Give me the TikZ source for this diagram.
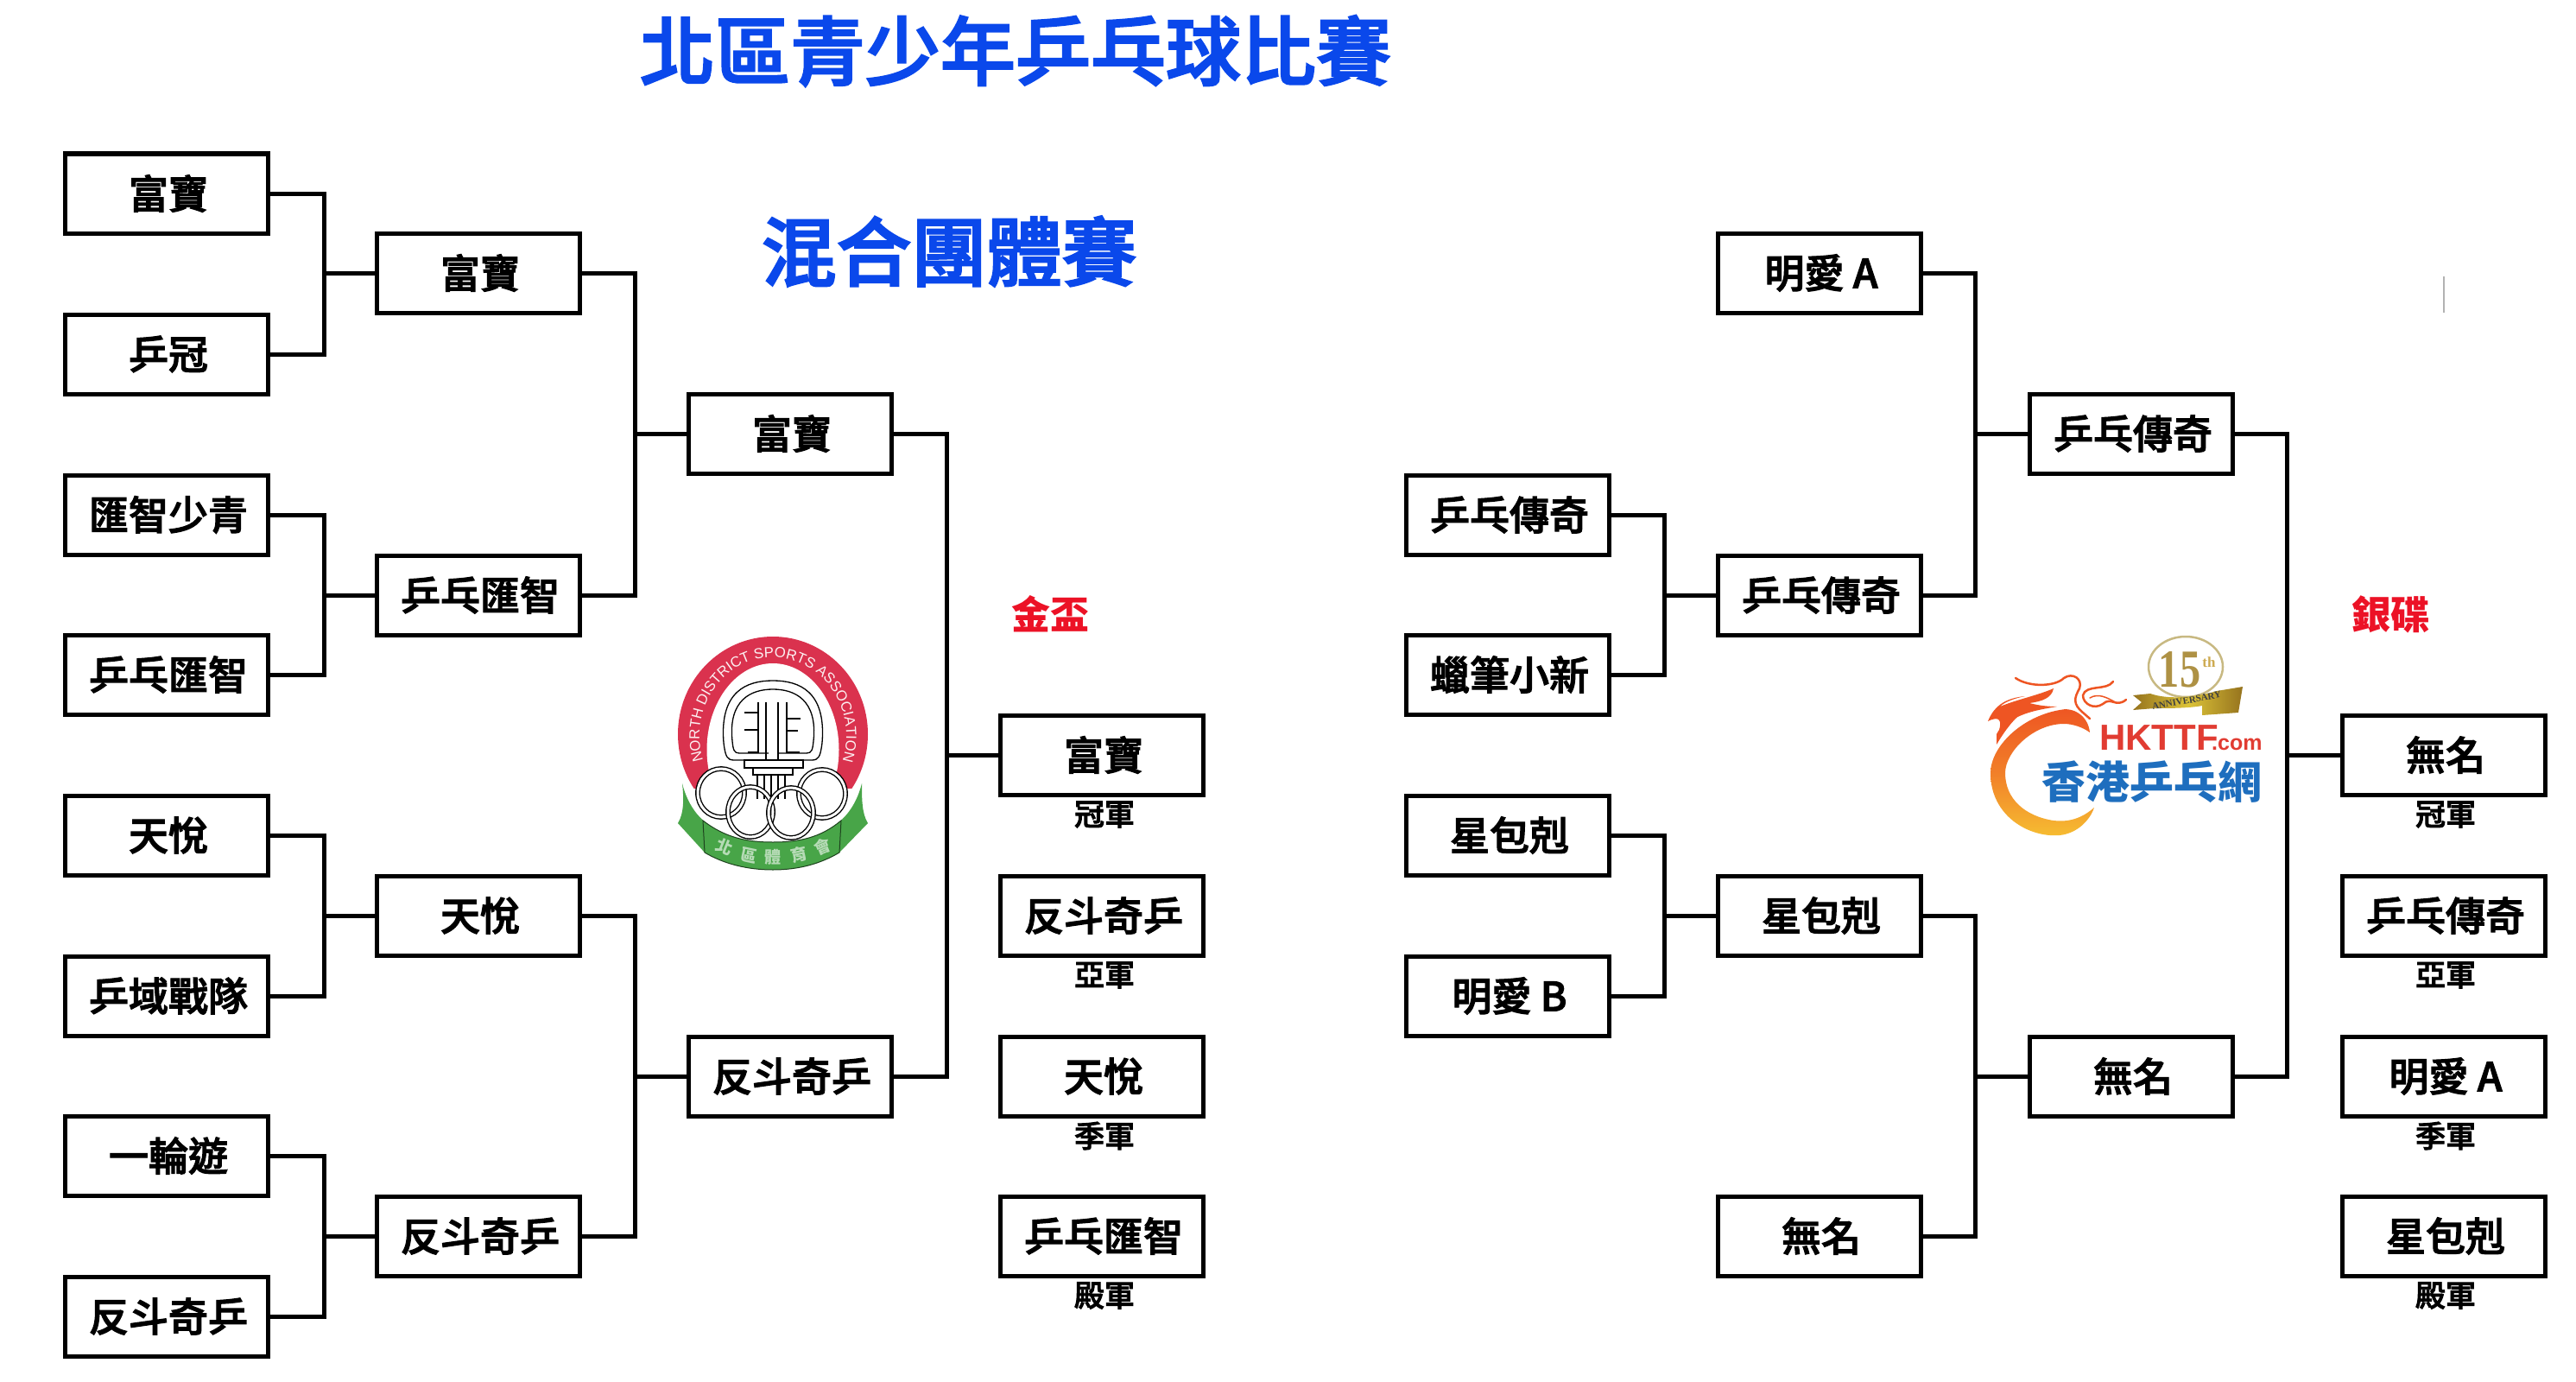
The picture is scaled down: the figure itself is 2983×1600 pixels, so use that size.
\documentclass[tikz,border=0pt]{standalone}
\usepackage{fontspec}
\usepackage{graphicx}
\usetikzlibrary{decorations.text,calc}
\newfontfamily\cjk{Noto Sans CJK TC}
\newfontfamily\cjkm[FakeBold=2.5]{Noto Sans CJK TC Medium}
\newfontfamily\lib{Liberation Sans}
\newfontfamily\libs{Liberation Serif}
\newcommand{\fsz}[1]{\fontsize{#1}{#1}\selectfont}
\definecolor{titleblue}{RGB}{10,72,235}
\definecolor{medalred}{RGB}{236,18,38}
\definecolor{ndred}{RGB}{218,50,78}
\definecolor{ndgreen}{RGB}{72,165,72}
\definecolor{ttblue}{RGB}{30,110,190}
\definecolor{ttred}{RGB}{225,60,50}
\definecolor{ttorange}{RGB}{238,85,35}
\definecolor{ttyellow}{RGB}{246,190,50}
\definecolor{gold}{RGB}{205,170,80}
\definecolor{golddark}{RGB}{150,115,30}
\definecolor{goldlight}{RGB}{200,185,130}
\tikzset{
  team/.style={draw=black,line width=5pt,fill=white,minimum width=235pt,minimum height=92pt,
    inner sep=0pt,font=\cjkm\fsz{46},text=black},
  conn/.style={draw=black,line width=5pt,line cap=rect,line join=miter},
  capt/.style={font=\cjkm\fsz{35},text=black,inner sep=0pt},
  maintitle/.style={font=\cjkm\fsz{87},text=titleblue,inner sep=0pt},
  medal/.style={font=\cjk\bfseries\fsz{45},text=medalred,inner sep=0pt},
  ndline/.style={draw=black,line width=1.3pt},
  ring/.style={draw=black,line width=1.4pt,double=white,double distance=3pt},
  flame/.style={fill=ttorange,draw=none},
  crest/.style={draw=ttorange,line width=2.5pt,line cap=round},
}
\newcommand{\bracket}[4]{% top, bottom, target, x of the vertical
  \coordinate (j#3) at (#4,0 |- #3.west);
  \draw[conn] (#1.east) -| (j#3) |- (#2.east);
  \draw[conn] (j#3) -- (#3.west);
}
% team text sits a little right of the box centre in the reference
\newcommand{\tm}[1]{\hspace*{4pt}#1}
\begin{document}
\begin{tikzpicture}[x=1pt,y=-1pt]
\useasboundingbox (0,0) rectangle (2983,1600);
\fill[white] (0,0) rectangle (2983,1600);

% titles
\node[maintitle] (t1) at (1176,59) {北區青少年乒乓球比賽};
\node[maintitle] (t2) at (1099,291) {混合團體賽};
\node[medal] (m1) at (1216,711) {金盃};
\node[medal] (m2) at (2768,711) {銀碟};

% left bracket
\node[team] (a1) at (193,224) {\tm{富寶}};
\node[team] (a2) at (193,410) {\tm{乒冠}};
\node[team] (a3) at (193,596) {\tm{匯智少青}};
\node[team] (a4) at (193,781) {\tm{乒乓匯智}};
\node[team] (a5) at (193,967) {\tm{天悅}};
\node[team] (a6) at (193,1153) {\tm{乒域戰隊}};
\node[team] (a7) at (193,1338) {\tm{一輪遊}};
\node[team] (a8) at (193,1524) {\tm{反斗奇乒}};
\node[team] (b1) at (554,316) {\tm{富寶}};
\node[team] (b2) at (554,689) {\tm{乒乓匯智}};
\node[team] (b3) at (554,1060) {\tm{天悅}};
\node[team] (b4) at (554,1431) {\tm{反斗奇乒}};
\node[team] (c1) at (915,502) {\tm{富寶}};
\node[team] (c2) at (915,1246) {\tm{反斗奇乒}};
\node[team] (d1) at (1276,874) {\tm{富寶}};
\node[team] (d2) at (1276,1060) {\tm{反斗奇乒}};
\node[team] (d3) at (1276,1246) {\tm{天悅}};
\node[team] (d4) at (1276,1431) {\tm{乒乓匯智}};
\bracket{a1}{a2}{b1}{375}
\bracket{a3}{a4}{b2}{375}
\bracket{a5}{a6}{b3}{375}
\bracket{a7}{a8}{b4}{375}
\bracket{b1}{b2}{c1}{735}
\bracket{b3}{b4}{c2}{735}
\bracket{c1}{c2}{d1}{1096}

% right bracket
\node[team] (e3) at (1746,596) {\tm{乒乓傳奇}};
\node[team] (e4) at (1746,781) {\tm{蠟筆小新}};
\node[team] (e5) at (1746,967) {\tm{星包剋}};
\node[team] (e6) at (1746,1153) {\tm{明愛 B}};
\node[team] (f1) at (2107,316) {\tm{明愛 A}};
\node[team] (f2) at (2107,689) {\tm{乒乓傳奇}};
\node[team] (f3) at (2107,1060) {\tm{星包剋}};
\node[team] (f4) at (2107,1431) {\tm{無名}};
\node[team] (g1) at (2468,502) {\tm{乒乓傳奇}};
\node[team] (g2) at (2468,1246) {\tm{無名}};
\node[team] (h1) at (2830,874) {\tm{無名}};
\node[team] (h2) at (2830,1060) {\tm{乒乓傳奇}};
\node[team] (h3) at (2830,1246) {\tm{明愛 A}};
\node[team] (h4) at (2830,1431) {\tm{星包剋}};
\bracket{e3}{e4}{f2}{1927}
\bracket{e5}{e6}{f3}{1927}
\bracket{f1}{f2}{g1}{2287}
\bracket{f3}{f4}{g2}{2287}
\bracket{g1}{g2}{h1}{2648}

% captions
\node[capt] (cd1) at (1279,943) {冠軍};
\node[capt] (cd2) at (1279,1129) {亞軍};
\node[capt] (cd3) at (1279,1315) {季軍};
\node[capt] (cd4) at (1279,1500) {殿軍};
\node[capt] (ch1) at (2832,943) {冠軍};
\node[capt] (ch2) at (2832,1129) {亞軍};
\node[capt] (ch3) at (2832,1315) {季軍};
\node[capt] (ch4) at (2832,1500) {殿軍};

% faint stray tick
\draw[draw=black!30,line width=2pt] (2830,320) -- (2830,362);

% ---------- North District Sports Association crest ----------
% green ribbon tails
\fill[ndgreen] (790,907) .. controls (797,935) and (812,950) .. (825,958)
  -- (816,987) -- (785,953) .. controls (792,942) and (792,925) .. (790,907) -- cycle;
\fill[ndgreen] (998,907) .. controls (991,935) and (976,950) .. (963,958)
  -- (972,987) -- (1005,953) .. controls (998,942) and (998,925) .. (998,907) -- cycle;
% red arch
\begin{scope}
  \clip (770,730) rectangle (1020,912);
  \fill[ndred] (895,850) ellipse [x radius=110pt,y radius=113pt];
\end{scope}
\fill[white] (895,868) ellipse [x radius=76.5pt,y radius=100pt];
\path[decorate,decoration={text along path,
    text={|\lib\fsz{16.8}|NORTH DISTRICT SPORTS ASSOCIATION},
    text color=white!92!ndred,text align=center}]
  (895,852) ++(200:85pt and 91pt) arc[start angle=200,end angle=-20,x radius=85pt,y radius=91pt];
% pediment
\draw[ndline] (838,860) .. controls (833,800) and (865,788) .. (895,788)
  .. controls (925,788) and (957,800) .. (952,860)
  .. controls (950,876) and (948,880) .. (940,880) -- (850,880)
  .. controls (842,880) and (840,876) .. (838,860) -- cycle;
\draw[ndline] (848,858) .. controls (843,810) and (870,798) .. (895,798)
  .. controls (920,798) and (947,810) .. (942,858)
  .. controls (941,868) and (940,872) .. (934,872) -- (900,872)
  (890,872) -- (856,872) .. controls (850,872) and (849,868) .. (848,858);
\draw[ndline] (887,813) -- (887,880) (901,813) -- (901,880)
  (878,813) -- (878,871) -- (866,871)
  (862,825) -- (878,825) (862,845) -- (878,845)
  (911,813) -- (911,871) -- (926,871)
  (911,832) -- (927,832) (911,846) -- (924,846);
\draw[ndline,fill=white] (862,880) rectangle (930,889);
\draw[ndline,fill=white] (872,889) rectangle (918,897);
\draw[ndline] (877,897) -- (877,925) (885,897) -- (885,925) (893,897) -- (893,925)
  (901,897) -- (901,925) (909,897) -- (909,925);
% rings
\draw[ring,fill=white] (835,918) ellipse [x radius=27pt,y radius=28pt];
\draw[ring,fill=white] (952,919) ellipse [x radius=27pt,y radius=28pt];
\draw[ring] (869,940) ellipse [x radius=26pt,y radius=29pt];
\draw[ring] (916,941) ellipse [x radius=26pt,y radius=29pt];
% ribbon centre band
\draw[fill=ndgreen,draw=black!60!ndgreen,line width=1pt] (814,950)
  .. controls (840,970) and (865,975) .. (895,975)
  .. controls (925,975) and (950,970) .. (974,950)
  -- (972,987) .. controls (950,1000) and (925,1007) .. (895,1007)
  .. controls (865,1007) and (838,1000) .. (816,987) -- cycle;
\tikzset{rib/.style={font=\cjk\bfseries\fsz{19},text=ndgreen!40,inner sep=0pt}}
\node[rib,rotate=-22] (r1) at (839,980) {北};
\node[rib,rotate=-12] (r2) at (867,990) {區};
\node[rib] (r3) at (895,992) {體};
\node[rib,rotate=12] (r4) at (925,989) {育};
\node[rib,rotate=22] (r5) at (953,980) {會};

% ---------- HKTTF crest ----------
% crescent
\shade[top color=ttorange,bottom color=ttyellow,middle color=ttorange!60!ttyellow]
  (2420,848) .. controls (2418,828) and (2400,818) .. (2385,822)
  .. controls (2340,830) and (2305,865) .. (2305,895)
  .. controls (2305,945) and (2350,970) .. (2385,967)
  .. controls (2405,965) and (2420,950) .. (2425,935)
  .. controls (2410,948) and (2395,952) .. (2378,950)
  .. controls (2345,945) and (2322,925) .. (2322,895)
  .. controls (2322,870) and (2355,838) .. (2390,838)
  .. controls (2400,838) and (2412,842) .. (2420,848) -- cycle;
% dragon
\fill[flame] (2302,835) .. controls (2310,815) and (2325,808) .. (2345,806)
  .. controls (2335,808) and (2322,812) .. (2316,818) .. controls (2335,810) and (2360,805) .. (2378,797)
  .. controls (2376,808) and (2365,812) .. (2350,814)
  .. controls (2358,816) and (2368,818) .. (2382,818)
  .. controls (2360,822) and (2335,825) .. (2315,845)
  .. controls (2318,835) and (2316,828) .. (2302,835) -- cycle;
\fill[flame] (2312,850) .. controls (2320,835) and (2330,828) .. (2345,822)
  .. controls (2335,830) and (2325,840) .. (2312,862) -- cycle;
\draw[crest] (2334,785) .. controls (2350,796) and (2380,795) .. (2390,785)
  .. controls (2400,778) and (2412,786) .. (2408,797)
  .. controls (2402,808) and (2400,815) .. (2412,825) -- (2420,832);
\draw[crest] (2447,789) .. controls (2440,800) and (2415,792) .. (2412,805)
  .. controls (2412,815) and (2425,822) .. (2435,815)
  .. controls (2445,806) and (2450,820) .. (2462,810);
\draw[crest,line width=1.5pt] (2420,808) .. controls (2430,802) and (2440,808) .. (2448,812);
% medal
\draw[draw=goldlight,line width=2.5pt] (2531,772) ellipse [x radius=43pt,y radius=35pt];
\node[inner sep=0pt,text=gold!85!black,font=\libs\bfseries\fsz{62}] (n15) at (2524,775) {\scalebox{.78}[1]{15}};
\node[inner sep=0pt,text=gold,font=\libs\bfseries\fsz{17}] (nth) at (2558,767) {th};
\shade[left color=golddark,right color=golddark,middle color=gold!70!yellow]
  (2470,805) -- (2490,803) .. controls (2510,810) and (2540,808) .. (2567,800) -- (2597,795)
  -- (2592,825) -- (2550,828) -- (2550,817) .. controls (2535,820) and (2510,820) .. (2495,820)
  -- (2470,822) -- (2480,813) -- cycle;
\node[inner sep=0pt,rotate=10,text=black!75,font=\libs\bfseries\fsz{11}] (nann) at (2532,811) {ANNIVERSARY};
% wordmark
\node[anchor=base west,inner sep=0pt,text=ttred,font=\lib\bfseries\fsz{42}] (nhk) at (2431,868) {HKTTF};
\node[anchor=base west,inner sep=0pt,text=ttred,font=\lib\bfseries\fsz{25}] (ncom) at (2561,868) {.com};
\node[inner sep=0pt,text=ttblue,font=\cjk\bfseries\fsz{51}] (nname) at (2492,905) {香港乒乓網};
\end{tikzpicture}
\end{document}
